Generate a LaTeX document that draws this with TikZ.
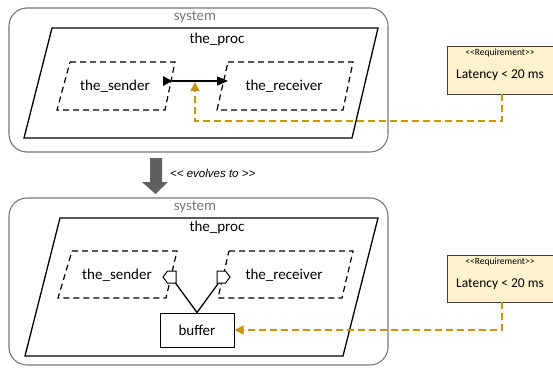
\documentclass[tikz,border=0pt]{standalone}
\usepackage{fontspec}
\setmainfont{Carlito}
\newfontfamily\arialf{Liberation Sans}
\usetikzlibrary{arrows.meta}
\definecolor{sysgray}{RGB}{120,120,120}
\definecolor{reqgold}{RGB}{196,150,20}
\definecolor{reqfill}{RGB}{255,242,204}
\definecolor{arrgray}{RGB}{96,96,96}
\tikzset{
  sysbox/.style={draw=sysgray, line width=1.1pt, rounded corners=18pt},
  syslabel/.style={text=sysgray, font=\fontsize{15}{18}\selectfont, inner sep=0pt},
  proclabel/.style={font=\fontsize{15}{18}\selectfont, inner sep=0pt},
  procshape/.style={draw=black, line width=1.3pt},
  partshape/.style={draw=black, line width=1.2pt, dash pattern=on 6pt off 4pt},
  partlabel/.style={font=\fontsize{15}{18}\selectfont, inner sep=0pt},
  reqbox/.style={draw=black!75, fill=reqfill, line width=1pt},
  reqsmall/.style={font=\fontsize{9.5}{11}\selectfont, inner sep=0pt},
  reqtext/.style={font=\fontsize{13.5}{16}\selectfont, inner sep=0pt},
  tracelink/.style={draw=reqgold, line width=1.4pt, dash pattern=on 7pt off 4pt, -{Triangle[length=9pt,width=9pt]}},
  flowlink/.style={draw=black, line width=1.3pt},
  bufbox/.style={draw=black, line width=1pt, fill=white, minimum width=74pt, minimum height=34pt, inner sep=0pt, font=\fontsize{15}{18}\selectfont},
  portopen/.style={draw=black, line width=1pt, fill=white},
}
\begin{document}
\begin{tikzpicture}[x=1pt,y=-1pt]
\clip (0,0) rectangle (553,367);
\useasboundingbox (0,0) rectangle (553,367);

% ---------- top ----------
\draw[sysbox] (9,8) rectangle (388,152);
\node[syslabel] (sys1) at (195,17) {system};
\draw[procshape] (52,28) -- (378,28) -- (352,138) -- (24,138) -- cycle;
\node[proclabel] (proc1) at (217,39) {the\_proc};
\draw[partshape] (70,62) -- (175,62) -- (165,110) -- (57,110) -- cycle;
\node[partlabel] (snd1) at (115,86) {the\_sender};
\draw[partshape] (228,62) -- (353,62) -- (343,110) -- (217,110) -- cycle;
\node[partlabel] (rcv1) at (284,86) {the\_receiver};
% out port
\coordinate (p1out) at (172,81);
\coordinate (p1in) at (228,81);
\fill[black] (163,76) -- (p1out) -- (163,86) -- cycle;
\draw[flowlink, -{Triangle[length=11pt,width=9pt]}] (p1out) -- (p1in);

\draw[reqbox] (447,46) rectangle (558,94);
\node[reqsmall] (req1s) at (500,53) {<{}<Requirement>{}>};
\node[reqtext] (req1t) at (500,75) {Latency < 20 ms};
\coordinate (req1b) at (502,94);
\coordinate (tgt1) at (195,82);
\draw[tracelink] (req1b) |- (195,121) -- (tgt1);

% ---------- evolves ----------
\fill[arrgray] (150,158) -- (162,158) -- (162,182) -- (168,182) -- (155.5,194) -- (142,182) -- (150,182) -- cycle;
\node[font=\arialf\itshape\fontsize{11.5}{14}\selectfont, inner sep=0pt, anchor=west] (evo) at (170,173) {<{}< evolves to >{}>};

% ---------- bottom ----------
\draw[sysbox] (9,198) rectangle (388,365);
\node[syslabel] (sys2) at (195,207) {system};
\draw[procshape] (60,218) -- (378,218) -- (343,356) -- (25,356) -- cycle;
\node[proclabel] (proc2) at (217,227) {the\_proc};
\draw[partshape] (72,251) -- (177,251) -- (166,298) -- (58,298) -- cycle;
\node[partlabel] (snd2) at (117,275) {the\_sender};
\draw[partshape] (229,251) -- (353,251) -- (342,298) -- (218,298) -- cycle;
\node[partlabel] (rcv2) at (284,275) {the\_receiver};

\node[bufbox] (buf) at (197,330) {buffer};
\coordinate (p2s) at (174,281);
\coordinate (p2r) at (220,281);
\draw[flowlink] (buf.north) -- (p2s);
\draw[flowlink] (buf.north) -- (p2r);
\draw[portopen] (163,277) -- (167.5,271) -- (176,271) -- (176,283) -- (167.5,283) -- cycle;
\draw[portopen] (230,277) -- (225.5,271) -- (217,271) -- (217,283) -- (225.5,283) -- cycle;

\draw[reqbox] (447,255) rectangle (558,302);
\node[reqsmall] (req2s) at (500,262) {<{}<Requirement>{}>};
\node[reqtext] (req2t) at (500,284) {Latency < 20 ms};
\coordinate (req2b) at (502,302);
\draw[tracelink] (req2b) |- (buf.east);
\end{tikzpicture}
\end{document}
